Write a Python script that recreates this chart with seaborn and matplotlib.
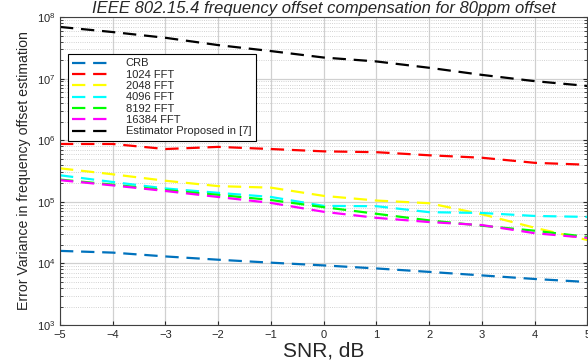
import numpy as np
import pandas as pd
import matplotlib
matplotlib.use('Agg')
import matplotlib.pyplot as plt
import seaborn as sns
from matplotlib.ticker import LogLocator, NullFormatter

snr = [-5, -4, -3, -2, -1, 0, 1, 2, 3, 4, 5]

crb = [1.6e4, 1.5e4, 1.3e4, 1.15e4, 1.03e4, 9.3e3, 8.3e3, 7.3e3, 6.4e3, 5.6e3, 5.0e3]
fft1024 = [8.7e5, 8.7e5, 7.2e5, 7.8e5, 7.2e5, 6.6e5, 6.4e5, 5.7e5, 5.2e5, 4.3e5, 4.0e5]
fft2048 = [3.5e5, 2.8e5, 2.2e5, 1.8e5, 1.7e5, 1.25e5, 1.05e5, 9.5e4, 6.3e4, 3.8e4, 2.4e4]
fft4096 = [2.7e5, 2.1e5, 1.65e5, 1.4e5, 1.2e5, 8.6e4, 8.5e4, 6.8e4, 6.6e4, 5.9e4, 5.7e4]
fft8192 = [2.3e5, 1.9e5, 1.55e5, 1.3e5, 1.07e5, 8.2e4, 6.4e4, 5.0e4, 4.1e4, 3.4e4, 2.7e4]
fft16384 = [2.25e5, 1.85e5, 1.5e5, 1.2e5, 9.6e4, 6.9e4, 5.5e4, 4.7e4, 4.2e4, 3.1e4, 2.6e4]
proposed7 = [6.9e7, 5.7e7, 4.6e7, 3.5e7, 2.8e7, 2.2e7, 1.9e7, 1.5e7, 1.15e7, 9.1e6, 7.6e6]

labels = ['CRB', '1024 FFT', '2048 FFT', '4096 FFT', '8192 FFT', '16384 FFT',
          'Estimator Proposed in [7]']
colors = ['#0072BD', '#FF0000', '#FFFF00', '#00FFFF', '#00FF00', '#FF00FF', '#000000']

series = [crb, fft1024, fft2048, fft4096, fft8192, fft16384, proposed7]
df = pd.DataFrame({
    'SNR': snr * len(series),
    'value': [v for s in series for v in s],
    'label': [lab for lab in labels for _ in snr],
})

sns.set_style('whitegrid')
plt.rcParams['font.family'] = ['Liberation Sans', 'DejaVu Sans']

fig = plt.figure(figsize=(5.88, 3.62), dpi=100)
ax = fig.add_axes([0.102, 0.102, 0.897, 0.851])

for lab, col in zip(labels, colors):
    sns.lineplot(data=df[df.label == lab], x='SNR', y='value', color=col,
                 linestyle=(0, (6, 3.5)), linewidth=1.6, label=lab, ax=ax)

ax.set_yscale('log')
ax.set_xlim(-5, 5)
ax.set_ylim(1e3, 1e8)
ax.set_xticks(range(-5, 6))
ax.yaxis.set_minor_locator(LogLocator(base=10, subs=np.arange(2, 10)))
ax.yaxis.set_minor_formatter(NullFormatter())
ax.grid(True, which='major', color='#d0d0d0', linewidth=0.9, linestyle='-')
ax.grid(True, which='minor', axis='y', color='#c4c4c4', linewidth=0.6, linestyle=':')
for sp in ax.spines.values():
    sp.set_color('#404040')
    sp.set_linewidth(0.8)
ax.tick_params(labelsize=8, direction='in', length=3, left=True, bottom=True, right=True)
ax.tick_params(which='minor', direction='in', length=2, left=True, right=True)

ax.set_title('IEEE 802.15.4 frequency offset compensation for 80ppm offset',
             fontsize=12, style='italic', pad=3)
ax.set_xlabel('SNR, dB', fontsize=15, labelpad=1)
ax.set_ylabel('Error Variance in frequency offset estimation', fontsize=10.2, labelpad=4)

leg = ax.legend(loc='upper left', bbox_to_anchor=(0.015, 0.88), borderaxespad=0,
                fontsize=8, handlelength=3.4, handletextpad=1.4, frameon=True,
                fancybox=False, framealpha=1, borderpad=0.4, labelspacing=0.12)
leg.get_frame().set_edgecolor('black')
leg.get_frame().set_linewidth(0.8)

fig.savefig('out.png', dpi=100)
